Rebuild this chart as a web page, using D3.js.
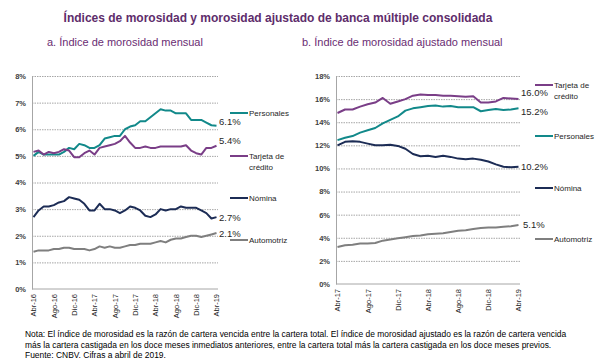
<!DOCTYPE html>
<html>
<head>
<meta charset="utf-8">
<script src="https://cdn.jsdelivr.net/npm/d3@7"></script>
<style>
  body { margin: 0; background: #fff; }
  svg { font-family: "Liberation Sans", Arial, sans-serif; }
  .grid line { stroke: #a6a6a6; stroke-dasharray: 1.5,1; }
</style>
</head>
<body>
<div id="chart"></div>
<script>
// ---- data ----
var mesesA = ["Abr-16","May-16","Jun-16","Jul-16","Ago-16","Sep-16","Oct-16","Nov-16","Dic-16","Ene-17","Feb-17","Mar-17",
  "Abr-17","May-17","Jun-17","Jul-17","Ago-17","Sep-17","Oct-17","Nov-17","Dic-17","Ene-18","Feb-18","Mar-18",
  "Abr-18","May-18","Jun-18","Jul-18","Ago-18","Sep-18","Oct-18","Nov-18","Dic-18","Ene-19","Feb-19","Mar-19","Abr-19"];
var mesesB = mesesA.slice(12);
var ticksA = ["Abr-16","Ago-16","Dic-16","Abr-17","Ago-17","Dic-17","Abr-18","Ago-18","Dic-18","Abr-19"];
var ticksB = ["Abr-17","Ago-17","Dic-17","Abr-18","Ago-18","Dic-18","Abr-19"];

// a. indice de morosidad (%)
var personalesA = [5.0,5.15,5.05,5.05,5.05,5.05,5.15,5.3,5.25,5.45,5.4,5.3,5.3,5.4,5.65,5.7,5.75,5.75,6.0,6.1,6.15,6.3,6.3,
  6.45,6.6,6.75,6.7,6.7,6.6,6.6,6.6,6.35,6.35,6.35,6.25,6.15,6.13];
var tarjetaA = [5.15,5.2,5.05,5.15,5.1,5.15,5.25,5.2,4.95,4.95,5.1,5.2,5.05,5.3,5.35,5.4,5.45,5.55,5.75,5.5,5.3,5.3,5.35,
  5.3,5.3,5.35,5.35,5.35,5.35,5.35,5.4,5.2,5.1,5.05,5.3,5.3,5.38];
var nominaA = [2.7,2.95,3.1,3.1,3.15,3.25,3.3,3.45,3.4,3.35,3.2,2.95,2.95,3.2,3.0,3.0,2.95,2.85,2.95,3.1,3.05,2.95,2.75,
  2.7,2.8,3.0,2.95,3.0,3.0,3.1,3.05,3.05,3.05,2.95,2.85,2.65,2.7];
var automotrizA = [1.4,1.45,1.45,1.45,1.5,1.5,1.55,1.55,1.5,1.5,1.5,1.45,1.5,1.6,1.55,1.6,1.55,1.55,1.6,1.65,1.65,1.7,1.7,
  1.7,1.75,1.8,1.75,1.85,1.9,1.9,1.95,2.0,2.0,1.95,2.0,2.05,2.1];

// b. indice de morosidad ajustado (%)
var tarjetaB = [14.8,15.1,15.1,15.35,15.55,15.7,16.1,15.6,15.8,16.0,16.3,16.4,16.35,16.35,16.3,16.3,16.25,16.2,16.25,
  15.7,15.7,15.8,16.1,16.05,16.0];
var personalesB = [12.45,12.65,12.8,13.1,13.3,13.5,13.9,14.2,14.5,15.0,15.2,15.3,15.4,15.45,15.35,15.4,15.3,15.3,15.3,
  14.95,15.05,15.15,15.05,15.1,15.2];
var nominaB = [12.0,12.3,12.35,12.3,12.15,12.0,12.0,12.05,11.95,11.7,11.25,11.05,11.1,11.0,11.1,11.0,10.85,10.8,10.85,
  10.75,10.6,10.35,10.15,10.1,10.15];
var automotrizB = [3.2,3.35,3.4,3.5,3.5,3.55,3.75,3.85,3.95,4.05,4.15,4.2,4.3,4.35,4.4,4.5,4.6,4.65,4.75,4.85,4.9,4.9,
  4.95,5.0,5.1];

var colores = { personales: "#12898a", tarjeta: "#7a3e87", nomina: "#1c2c55", automotriz: "#7f7f7f" };

var svg = d3.select("#chart").append("svg")
  .attr("width", 600)
  .attr("height", 364);

// titles
svg.append("text")
  .attr("x", 278).attr("y", 22)
  .attr("text-anchor", "middle")
  .attr("font-size", "12px")
  .attr("font-weight", "bold")
  .attr("fill", "#5e2d6b")
  .text("Índices de morosidad y morosidad ajustado de banca múltiple consolidada");

svg.append("text")
  .attr("x", 47).attr("y", 46)
  .attr("font-size", "11px")
  .attr("fill", "#6a2d73")
  .text("a. Índice de morosidad mensual");

svg.append("text")
  .attr("x", 302).attr("y", 46)
  .attr("font-size", "11px")
  .attr("fill", "#6a2d73")
  .text("b. Índice de morosidad ajustado mensual");

// draws one panel
function panel(opt) {
  var g = svg.append("g");

  var x = d3.scalePoint()
    .domain(opt.meses)
    .range([opt.x0 + 1.5, opt.x1 - 1.5]);

  var y = d3.scaleLinear()
    .domain([0, opt.ymax])
    .range([opt.y1, opt.y0]);

  // gridlines
  g.append("g")
    .attr("class", "grid")
    .attr("transform", `translate(${opt.x0}, 0)`)
    .call(d3.axisLeft(y).tickValues(opt.yticks).tickSize(-(opt.x1 - opt.x0)).tickFormat(""))
    .call(s => s.select(".domain").remove())
    .call(s => s.selectAll(".tick").filter(d => d === 0).remove());

  // y axis labels
  g.append("g")
    .attr("transform", `translate(${opt.x0}, 0)`)
    .call(d3.axisLeft(y).tickValues(opt.yticks).tickSize(0).tickPadding(6).tickFormat(d => d + "%"))
    .call(s => s.select(".domain").attr("stroke", "#a6a6a6"))
    .call(s => s.selectAll("text").attr("font-size", "7.5px").attr("font-weight", "bold").attr("fill", "#404040"));

  // x axis
  g.append("g")
    .attr("transform", `translate(0, ${opt.y1})`)
    .call(d3.axisBottom(x).tickValues(opt.ticks).tickSize(0).tickPadding(0))
    .call(s => s.select(".domain").attr("stroke", "#a6a6a6").attr("d", `M${opt.x0},0H${opt.x1}`))
    .call(s => s.selectAll("text")
      .attr("transform", "rotate(-90)")
      .attr("text-anchor", "end")
      .attr("x", -5).attr("y", 0).attr("dy", "0.32em")
      .attr("font-size", "7.5px").attr("fill", "#262626"));

  var line = d3.line()
    .x((d, i) => x(opt.meses[i]))
    .y(d => y(d));

  opt.series.forEach(function(s) {
    g.append("path")
      .datum(s.values)
      .attr("fill", "none")
      .attr("stroke", s.color)
      .attr("stroke-width", 2)
      .attr("stroke-linejoin", "round")
      .attr("d", line);

    // end value label
    g.append("text")
      .attr("x", s.lx).attr("y", s.ly)
      .attr("dy", "0.35em")
      .attr("font-size", "9.5px")
      .attr("fill", "#262626")
      .text(s.values[s.values.length - 1].toFixed(1) + "%");

    // legend
    g.append("line")
      .attr("x1", opt.legX).attr("x2", opt.legX + 18)
      .attr("y1", s.legY).attr("y2", s.legY)
      .attr("stroke", s.color).attr("stroke-width", 2);

    var t = g.append("text")
      .attr("x", opt.legX + 19).attr("y", s.legY)
      .attr("font-size", "8px")
      .attr("fill", "#262626");
    s.name.forEach(function(n, i) {
      t.append("tspan").attr("x", opt.legX + 19).attr("dy", i === 0 ? "0.35em" : "1.45em").text(n);
    });
  });
}

panel({
  meses: mesesA, ticks: ticksA, x0: 32, x1: 218, y0: 76, y1: 289, ymax: 8,
  yticks: d3.range(0, 9, 1), legX: 230,
  series: [
    { name: ["Personales"], values: personalesA, color: colores.personales, lx: 219, ly: 122, legY: 113 },
    { name: ["Tarjeta de", "crédito"], values: tarjetaA, color: colores.tarjeta, lx: 219, ly: 141, legY: 156 },
    { name: ["Nómina"], values: nominaA, color: colores.nomina, lx: 219, ly: 218, legY: 198 },
    { name: ["Automotriz"], values: automotrizA, color: colores.automotriz, lx: 219, ly: 234, legY: 240 }
  ]
});

panel({
  meses: mesesB, ticks: ticksB, x0: 336, x1: 520, y0: 76, y1: 284, ymax: 18,
  yticks: d3.range(0, 19, 2), legX: 535,
  series: [
    { name: ["Tarjeta de", "crédito"], values: tarjetaB, color: colores.tarjeta, lx: 521, ly: 93, legY: 85 },
    { name: ["Personales"], values: personalesB, color: colores.personales, lx: 521, ly: 112, legY: 136 },
    { name: ["Nómina"], values: nominaB, color: colores.nomina, lx: 521, ly: 167, legY: 188 },
    { name: ["Automotriz"], values: automotrizB, color: colores.automotriz, lx: 523, ly: 225, legY: 239 }
  ]
});

// footnote
var nota = [
  "Nota: El índice de morosidad es la razón de cartera vencida entre la cartera total. El índice de morosidad ajustado es la razón de cartera vencida",
  "más la cartera castigada en los doce meses inmediatos anteriores, entre la cartera total más la cartera castigada en los doce meses previos.",
  "Fuente: CNBV. Cifras a abril de 2019."
];
svg.append("g").selectAll("text")
  .data(nota)
  .enter()
  .append("text")
  .attr("x", 25)
  .attr("y", (d, i) => 337 + i * 10.5)
  .attr("font-size", "8.45px")
  .attr("fill", "#000")
  .text(d => d);
</script>
</body>
</html>
